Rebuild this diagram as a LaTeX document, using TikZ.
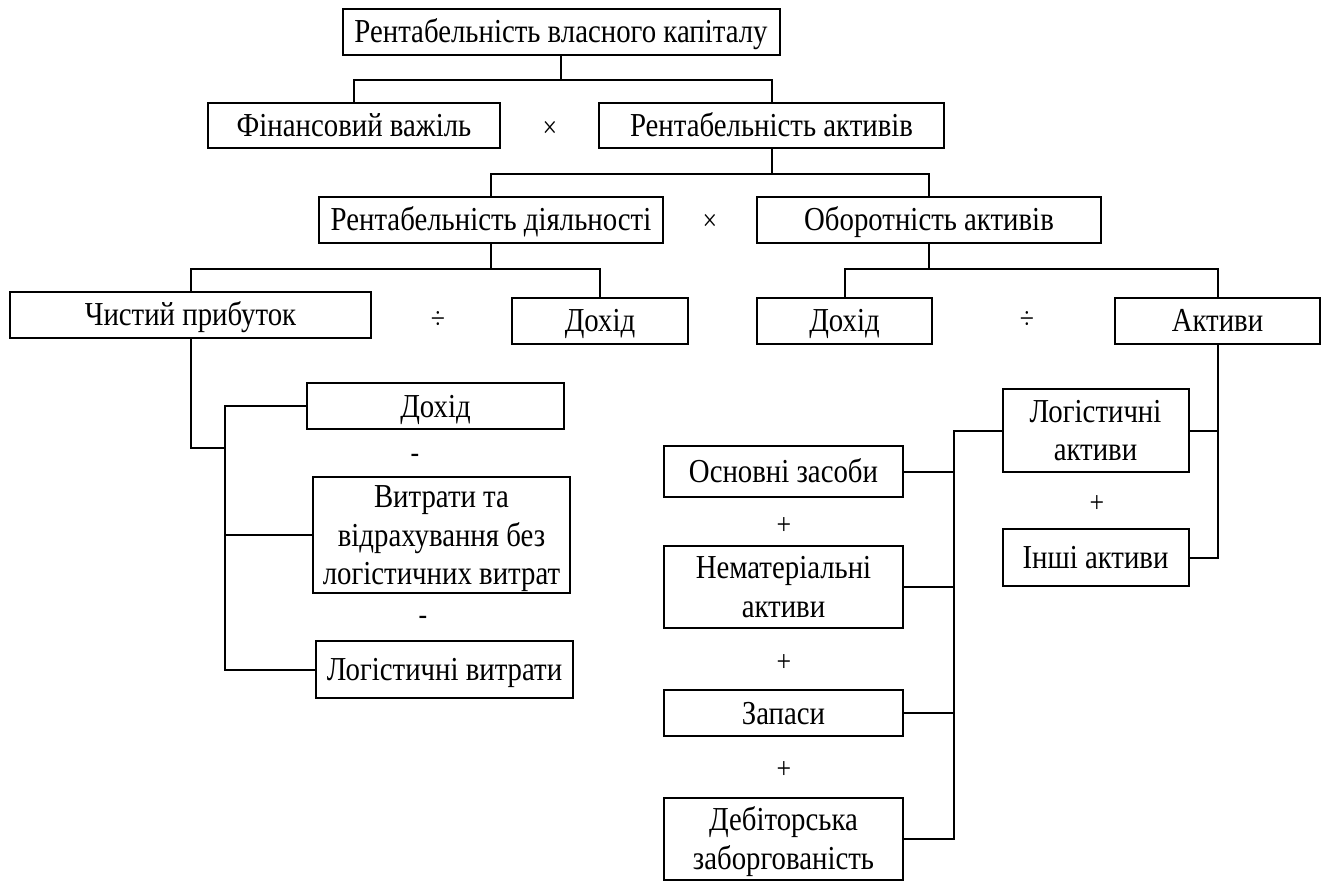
\documentclass[tikz,border=0pt]{standalone}
\usepackage{fontspec}
\setmainfont{Liberation Serif}[FakeStretch=0.86]
\begin{document}
\begin{tikzpicture}[x=0.5pt,y=-0.5pt,
  box/.style={draw,line width=1pt,align=center,inner sep=0pt,
    font=\fontsize{16.75}{19.25}\selectfont,text height=11pt,text depth=0pt},
  two/.style={text height=30.25pt,text depth=0pt},
  three/.style={text height=49.5pt,text depth=0pt},
  sz/.style n args={2}{minimum width=#1*0.5pt,minimum height=#2*0.5pt},
  op/.style={inner sep=0pt,font=\fontsize{15}{18}\selectfont},
  conn/.style={line width=1pt}]
\useasboundingbox (0,0) rectangle (1325,881);
% boxes
\node[box,sz={437}{46}] (top) at (561,32) {Рентабельність власного капіталу};
\node[box,sz={292}{45}] (fin) at (354,125.5) {Фінансовий важіль};
\node[box,sz={345}{45}] (ra) at (771.5,125.5) {Рентабельність активів};
\node[box,sz={344}{46}] (rd) at (491,220) {Рентабельність діяльності};
\node[box,sz={344}{46}] (oa) at (929,220) {Оборотність активів};
\node[box,sz={361}{46}] (cp) at (190.5,315) {Чистий прибуток};
\node[box,sz={176}{46}] (doh1) at (600,321) {Дохід};
\node[box,sz={175}{46}] (doh2) at (844.5,321) {Дохід};
\node[box,sz={205}{46}] (akt) at (1217.5,321) {Активи};
\node[box,sz={257}{46}] (doh3) at (435.5,406) {Дохід};
\node[box,three,sz={257}{116}] (vytr) at (441.5,535) {Витрати та\\відрахування без\\логістичних витрат};
\node[box,sz={257}{57}] (logv) at (444.5,669.5) {Логістичні витрати};
\node[box,two,sz={186}{83}] (loga) at (1095.5,430.5) {Логістичні\\активи};
\node[box,sz={186}{57}] (inshi) at (1095.5,557.5) {Інші активи};
\node[box,sz={239}{51}] (osn) at (783.5,471.5) {Основні засоби};
\node[box,two,sz={239}{82}] (nem) at (783.5,587) {Нематеріальні\\активи};
\node[box,sz={239}{46}] (zap) at (783.5,713) {Запаси};
\node[box,two,sz={239}{82}] (deb) at (783.5,839) {Дебіторська\\заборгованість};
% operators
\node[op] (o1) at (550,129) {×};
\node[op] (o2) at (710,222) {×};
\node[op] (o3) at (438,320) {÷};
\node[op] (o4) at (1027,320) {÷};
\node[op] (o5) at (415,458) {-};
\node[op] (o6) at (423,620) {-};
\node[op] (o7) at (1097,504) {+};
\node[op] (o8) at (784,526) {+};
\node[op] (o9) at (784,663) {+};
\node[op] (o10) at (784,770) {+};
% connectors
\draw[conn] (top.south) -- ++(0,24) coordinate (j1) -| (fin.north);
\draw[conn] (j1) -| (ra.north);
\draw[conn] (ra.south) -- ++(0,25) coordinate (j2) -| (rd.north);
\draw[conn] (j2) -| (oa.north);
\draw[conn] (rd.south) -- ++(0,25) coordinate (j3) -| (cp.north);
\draw[conn] (j3) -| (doh1.north);
\draw[conn] (oa.south) -- ++(0,25) coordinate (j4) -| (doh2.north);
\draw[conn] (j4) -| (akt.north);
% left bus
\draw[conn] (doh3.west) -- ++(-81,0) coordinate (bt) |- (logv.west);
\draw[conn] (bt |- vytr.west) -- (vytr.west);
\coordinate (cpj) at (226,448);
\draw[conn] (cp.south) |- (cpj);
% right side
\draw[conn] (akt.south) |- (inshi.east);
\draw[conn] (loga.east) -- (loga.east -| akt.south);
\draw[conn] (loga.west) -- ++(-48,0) coordinate (bb) |- (deb.east);
\draw[conn] (osn.east) -- (osn.east -| bb);
\draw[conn] (nem.east) -- (nem.east -| bb);
\draw[conn] (zap.east) -- (zap.east -| bb);
\end{tikzpicture}
\end{document}
